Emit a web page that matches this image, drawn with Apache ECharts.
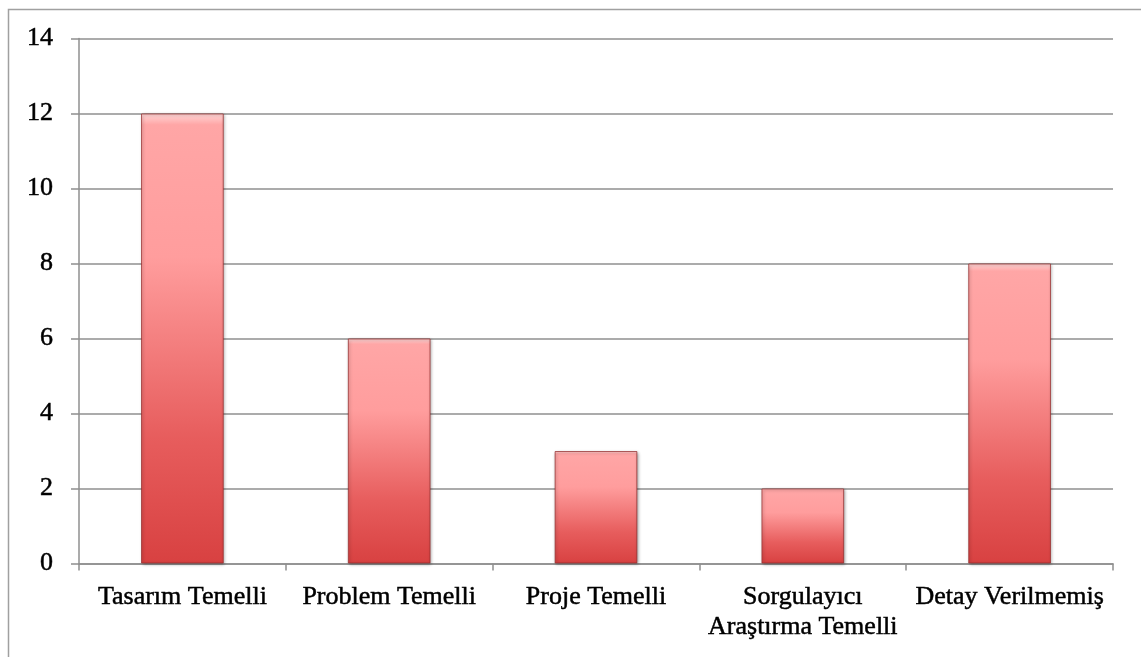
<!DOCTYPE html>
<html>
<head>
<meta charset="utf-8">
<style>
  html, body { margin: 0; padding: 0; background: #ffffff; }
  #chart { width: 1141px; height: 657px; }
</style>
<script src="https://cdn.jsdelivr.net/npm/echarts@6/dist/echarts.min.js"></script>
</head>
<body>
<div id="chart"></div>
<script>
// Öğrenme yaklaşımlarına göre çalışma sayıları
const categories = [
  'Tasarım Temelli',
  'Problem Temelli',
  'Proje Temelli',
  'Sorgulayıcı\nAraştırma Temelli',
  'Detay Verilmemiş'
];
const counts = [12, 6, 3, 2, 8];
const yTicks = { min: 0, max: 14, interval: 2 };

const FONT = '"Liberation Serif", "DejaVu Serif", serif';
const GRID_GRAY = '#8f8f8f';
const TEXT = {
  color: '#000000',
  fontFamily: FONT,
  fontSize: 26,
  textBorderColor: '#000000',
  textBorderWidth: 0.5
};

const chart = echarts.init(document.getElementById('chart'), null, { renderer: 'canvas' });

const barFill = new echarts.graphic.LinearGradient(0, 0, 0, 1, [
  { offset: 0.0, color: '#ffd8d8' },
  { offset: 0.025, color: '#ffa6a6' },
  { offset: 0.32, color: '#ff9d9d' },
  { offset: 0.72, color: '#e75d5d' },
  { offset: 1.0, color: '#d84141' }
]);

chart.setOption({
  animation: false,
  backgroundColor: '#ffffff',
  graphic: [{
    type: 'rect',
    shape: { x: 8.5, y: 9.5, width: 1140, height: 700 },
    style: { fill: 'none', stroke: '#a0a0a0', lineWidth: 1.5 },
    silent: true,
    z: -1
  }],
  grid: { left: 79, right: 28, top: 38.5, bottom: 93.5, containLabel: false },
  xAxis: {
    type: 'category',
    data: categories,
    axisLine: { show: true, lineStyle: { color: GRID_GRAY, width: 1.5 } },
    axisTick: { show: true, length: 7, alignWithLabel: false, lineStyle: { color: GRID_GRAY, width: 1.5 } },
    axisLabel: Object.assign({ interval: 0, margin: 19, lineHeight: 30 }, TEXT),
    splitLine: { show: false }
  },
  yAxis: {
    type: 'value',
    min: yTicks.min,
    max: yTicks.max,
    interval: yTicks.interval,
    axisLine: { show: true, lineStyle: { color: GRID_GRAY, width: 1.5 } },
    axisTick: { show: true, length: 8, lineStyle: { color: GRID_GRAY, width: 1.5 } },
    axisLabel: Object.assign({ margin: 26 }, TEXT),
    splitLine: { show: true, lineStyle: { color: GRID_GRAY, width: 1.5 } }
  },
  series: [{
    type: 'bar',
    data: counts,
    barWidth: '40%',
    itemStyle: {
      color: barFill,
      borderColor: 'rgba(150, 45, 45, 0.75)',
      borderWidth: 1,
      shadowColor: 'rgba(0, 0, 0, 0.35)',
      shadowBlur: 3,
      shadowOffsetX: 1,
      shadowOffsetY: 1
    }
  }]
});
</script>
</body>
</html>
